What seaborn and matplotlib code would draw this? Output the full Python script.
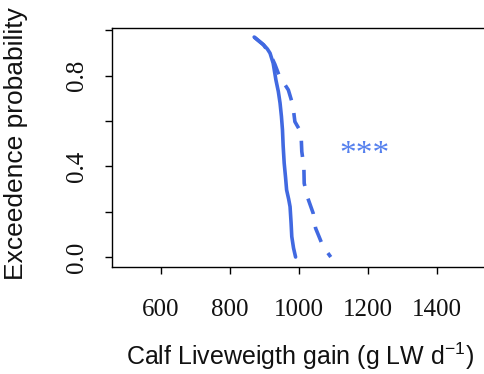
import matplotlib
matplotlib.use("Agg")
import matplotlib.pyplot as plt
import seaborn as sns
import pandas as pd

# exceedence curves
solid_gain = [870, 882, 897, 908, 916, 925, 933, 940, 945, 949, 952, 954, 957, 961, 964, 970, 974, 977, 979, 984, 990]
solid_prob = [0.97, 0.955, 0.936, 0.918, 0.899, 0.855, 0.781, 0.730, 0.679, 0.620, 0.561, 0.490, 0.414, 0.350, 0.296, 0.255, 0.222, 0.150, 0.090, 0.040, 0.0]

dashed_gain = [870, 897, 918, 930, 940, 945, 957, 969, 982, 988, 1000, 1006, 1008, 1014, 1015, 1024, 1041, 1048, 1058, 1066, 1080, 1092]
dashed_prob = [0.97, 0.936, 0.89, 0.85, 0.81, 0.79, 0.765, 0.737, 0.671, 0.597, 0.565, 0.539, 0.465, 0.399, 0.325, 0.266, 0.193, 0.127, 0.090, 0.060, 0.025, 0.0]

x_ticks = [600, 800, 1000, 1200, 1400]
y_ticks = [0.0, 0.2, 0.4, 0.6, 0.8, 1.0]
y_tick_labels = ["0.0", "", "0.4", "", "0.8", ""]

signif_label = "***"
signif_pos = (1191, 0.45)

blue = "#4169E1"

sns.set_style("ticks")
plt.rcParams["font.family"] = ["Liberation Sans", "DejaVu Sans"]
plt.rcParams["mathtext.fontset"] = "custom"
plt.rcParams["mathtext.rm"] = "Liberation Sans"
plt.rcParams["mathtext.it"] = "Liberation Sans:italic"
plt.rcParams["text.color"] = "#111111"
plt.rcParams["axes.labelcolor"] = "#111111"

fig = plt.figure(figsize=(4.84, 3.74), dpi=100)
ax = fig.add_axes([0.2314, 0.2861, 0.775, 0.639])

solid = pd.DataFrame({"gain": solid_gain, "prob": solid_prob})
dashed = pd.DataFrame({"gain": dashed_gain, "prob": dashed_prob})

sns.lineplot(data=solid, x="gain", y="prob", sort=False, ax=ax,
             color=blue, linewidth=2.6)
sns.lineplot(data=dashed, x="gain", y="prob", sort=False, ax=ax,
             color=blue, linewidth=2.6, linestyle=(0, (4.5, 3.6)))

ax.text(signif_pos[0], signif_pos[1], signif_label, color="#5580ee",
        fontsize=24, family="Liberation Serif", ha="center", va="center")

ax.set_xlim(458, 1545)
ax.set_ylim(-0.044, 1.01)
ax.set_xticks(x_ticks)
ax.set_xticklabels([str(t) for t in x_ticks], family="Liberation Serif", fontsize=18)
ax.set_yticks(y_ticks)
ax.set_yticklabels(y_tick_labels, family="Liberation Serif", fontsize=18,
                   rotation=90, va="center")
ax.tick_params(axis="x", length=5, width=1, pad=18, colors="black", labelcolor="#111111")
ax.tick_params(axis="y", length=5, width=1, pad=12, colors="black", labelcolor="#111111")

for s in ax.spines.values():
    s.set_color("black")
    s.set_linewidth(1.0)

ax.set_xlabel(r"Calf Liveweigth gain (g LW d$^{-1}$)", fontsize=18)
ax.set_ylabel("Exceedence probability", fontsize=19, va="center")
ax.xaxis.set_label_coords(0.50, -0.31)
ax.yaxis.set_label_coords(-0.256, 0.515)

fig.savefig("out.png", dpi=100)
